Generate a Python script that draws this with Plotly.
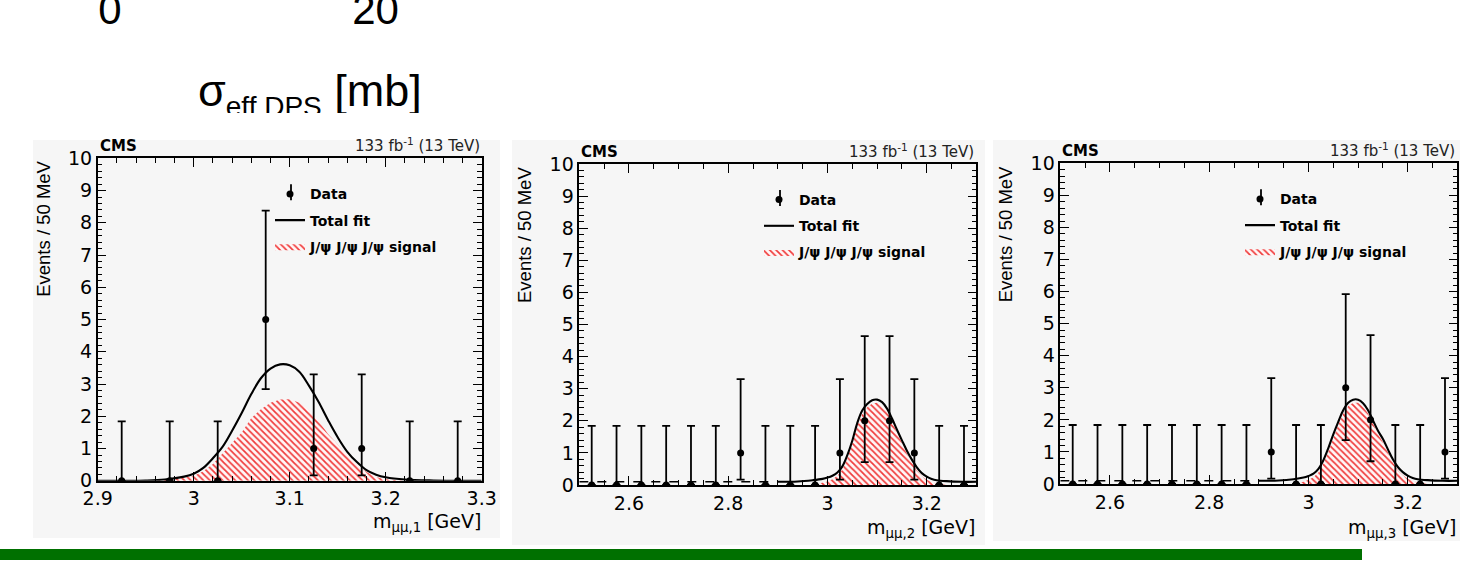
import plotly.graph_objects as go

W, H = 1460, 563
FONT = "DejaVu Sans"

# ---- data: 50 MeV bin centres and event counts ----
bins_1 = [2.925, 2.975, 3.025, 3.075, 3.125, 3.175, 3.225, 3.275]
counts_1 = [0, 0, 0, 5, 1, 1, 0, 0]

bins_23 = [2.525, 2.575, 2.625, 2.675, 2.725, 2.775, 2.825, 2.875,
           2.925, 2.975, 3.025, 3.075, 3.125, 3.175, 3.225, 3.275]
counts_2 = [0, 0, 0, 0, 0, 0, 1, 0, 0, 0, 1, 2, 2, 1, 0, 0]
counts_3 = [0, 0, 0, 0, 0, 0, 0, 0, 1, 0, 0, 3, 2, 0, 0, 1]

# 68% CL Poisson intervals for small counts (upper / lower lengths)
poisson_up = {0: 1.84, 1: 2.30, 2: 2.64, 3: 2.92, 5: 3.38}
poisson_dn = {0: 0.00, 1: 0.83, 2: 1.29, 3: 1.63, 5: 2.16}

# ---- fit curves ----
fit_x_1 = [2.90, 2.95, 2.97, 2.99, 3.00, 3.01, 3.02, 3.03, 3.04, 3.05, 3.06, 3.07,
           3.08, 3.09, 3.10, 3.11, 3.12, 3.13, 3.14, 3.15, 3.16, 3.17, 3.18, 3.19,
           3.20, 3.22, 3.25, 3.30]
fit_y_1 = [0.00, 0.01, 0.04, 0.13, 0.22, 0.40, 0.70, 1.05, 1.55, 2.10, 2.69, 3.18,
           3.48, 3.61, 3.58, 3.38, 2.95, 2.45, 1.88, 1.35, 0.90, 0.58, 0.33, 0.19,
           0.11, 0.04, 0.01, 0.00]
sig_x_1 = [2.96, 2.98, 3.00, 3.01, 3.02, 3.03, 3.04, 3.05, 3.06, 3.07, 3.08, 3.09,
           3.10, 3.11, 3.12, 3.13, 3.14, 3.15, 3.16, 3.17, 3.18, 3.19, 3.20, 3.22]
sig_y_1 = [0.00, 0.05, 0.15, 0.30, 0.52, 0.85, 1.15, 1.50, 1.95, 2.22, 2.42, 2.52,
           2.53, 2.42, 2.20, 1.85, 1.45, 1.12, 0.78, 0.48, 0.27, 0.12, 0.05, 0.00]

fit_x_23 = [2.90, 2.94, 2.97, 2.99, 3.00, 3.01, 3.02, 3.03, 3.04, 3.05, 3.06, 3.07,
            3.08, 3.09, 3.10, 3.11, 3.12, 3.13, 3.14, 3.15, 3.16, 3.17, 3.18, 3.19,
            3.20, 3.21, 3.22, 3.24, 3.27, 3.30]
fit_y_2 = [0.10, 0.11, 0.15, 0.19, 0.23, 0.29, 0.39, 0.58, 0.93, 1.38, 1.93, 2.32,
           2.52, 2.64, 2.66, 2.58, 2.38, 2.07, 1.72, 1.39, 1.07, 0.79, 0.55, 0.37,
           0.26, 0.19, 0.15, 0.12, 0.10, 0.10]
fit_y_3 = [0.10, 0.11, 0.15, 0.20, 0.25, 0.32, 0.47, 0.74, 1.12, 1.55, 1.94, 2.30,
           2.53, 2.63, 2.63, 2.52, 2.30, 1.98, 1.66, 1.40, 1.08, 0.77, 0.53, 0.37,
           0.26, 0.19, 0.15, 0.12, 0.10, 0.10]

sig_x_23 = [2.97, 2.99, 3.00, 3.01, 3.02, 3.03, 3.04, 3.05, 3.06, 3.07, 3.08, 3.09,
            3.10, 3.11, 3.12, 3.13, 3.14, 3.15, 3.16, 3.17, 3.18, 3.19, 3.20, 3.21,
            3.22, 3.24]
sig_y_2 = [0.00, 0.06, 0.11, 0.18, 0.29, 0.48, 0.83, 1.28, 1.83, 2.22, 2.42, 2.54,
           2.56, 2.48, 2.28, 1.97, 1.62, 1.29, 0.97, 0.69, 0.45, 0.27, 0.16, 0.09,
           0.05, 0.00]
sig_y_3 = [0.00, 0.07, 0.13, 0.21, 0.36, 0.63, 1.01, 1.44, 1.84, 2.20, 2.43, 2.53,
           2.53, 2.42, 2.20, 1.88, 1.56, 1.30, 0.98, 0.67, 0.43, 0.27, 0.16, 0.09,
           0.05, 0.00]

# background extrapolated below the fit range
bkg_x_23 = [2.50, 2.90]
bkg_y_2 = [0.10, 0.10]
bkg_y_3 = [0.10, 0.10]

x_titles = ["m<sub>μμ,1</sub> [GeV]", "m<sub>μμ,2</sub> [GeV]", "m<sub>μμ,3</sub> [GeV]"]
x_ranges = [[2.9, 3.3], [2.5, 3.3], [2.5, 3.3]]

# ---- layout geometry (pixels: left, right, top, bottom of each frame) ----
frames = [(97.7, 481.7, 158.3, 480.8),
          (579.3, 976.4, 164.0, 485.0),
          (1060.3, 1457.4, 163.3, 484.0)]
# background of each embedded panel image
panel_bg = [(33, 500, 140, 538), (512, 985, 140, 545), (993, 1460, 140, 541)]
ytitle_x = [43.5, 524, 1005]
xtitle_y = [522, 528, 528]
legend_left = [270, 759, 1240]


def px(x):
    return x / W


def py(y):
    return 1 - y / H


panels = [
    dict(bins=bins_1, counts=counts_1, fx=fit_x_1, fy=fit_y_1, sx=sig_x_1, sy=sig_y_1,
         bx=None, by=None, dtick=0.1, tick0=2.9, minor=0.02),
    dict(bins=bins_23, counts=counts_2, fx=fit_x_23, fy=fit_y_2, sx=sig_x_23, sy=sig_y_2,
         bx=bkg_x_23, by=bkg_y_2, dtick=0.2, tick0=2.6, minor=0.05),
    dict(bins=bins_23, counts=counts_3, fx=fit_x_23, fy=fit_y_3, sx=sig_x_23, sy=sig_y_3,
         bx=bkg_x_23, by=bkg_y_3, dtick=0.2, tick0=2.6, minor=0.05),
]

fig = go.Figure()
layout = {}
annotations = []
shapes = []

for i, p in enumerate(panels):
    s = "" if i == 0 else str(i + 1)
    xa, ya = "x" + s, "y" + s
    leg = "legend" + s
    l, r, t, b = frames[i]

    fig.add_trace(go.Scatter(
        x=p["sx"], y=p["sy"], mode="lines", line=dict(width=0, color="rgba(0,0,0,0)"),
        fill="tozeroy", fillcolor="rgba(255,255,255,0)",
        fillpattern=dict(shape="\\", fgcolor="#f03a3a", bgcolor="#fff7f7",
                         size=4.5, solidity=0.38),
        name="J/ψ J/ψ J/ψ signal", legend=leg, legendgroup=f"sig{i}", legendrank=3,
        xaxis=xa, yaxis=ya, hoverinfo="skip"))
    if p["bx"] is not None:
        fig.add_trace(go.Scatter(
            x=p["bx"], y=p["by"], mode="lines",
            line=dict(color="black", width=1.6, dash="dash"),
            showlegend=False, xaxis=xa, yaxis=ya, hoverinfo="skip"))
    fig.add_trace(go.Scatter(
        x=p["fx"], y=p["fy"], mode="lines", line=dict(color="black", width=2.1, shape="spline"),
        name="Total fit", legend=leg, legendgroup=f"fit{i}", legendrank=2,
        xaxis=xa, yaxis=ya))
    fig.add_trace(go.Scatter(
        x=p["bins"], y=p["counts"], mode="markers",
        marker=dict(color="black", size=7),
        error_y=dict(type="data", array=[poisson_up[c] for c in p["counts"]],
                     arrayminus=[poisson_dn[c] for c in p["counts"]],
                     color="black", thickness=1.8, width=4),
        name="Data", legend=leg, legendgroup=f"data{i}", legendrank=1,
        xaxis=xa, yaxis=ya))

    layout["xaxis" + s] = dict(
        domain=[px(l), px(r)], anchor=ya, range=x_ranges[i], automargin=False,
        tick0=p["tick0"], dtick=p["dtick"], ticks="inside", ticklen=9,
        tickwidth=1.3, tickcolor="black", showline=True, linecolor="black",
        linewidth=1.5, mirror="allticks", showgrid=False, zeroline=False,
        tickfont=dict(family=FONT, size=19, color="black"),
        minor=dict(ticks="inside", ticklen=5, dtick=p["minor"], tick0=2.5,
                   tickcolor="black", tickwidth=1.1, showgrid=False))
    layout["yaxis" + s] = dict(
        domain=[py(b), py(t)], anchor=xa, range=[0, 10], dtick=1, automargin=False,
        ticks="inside", ticklen=9, tickwidth=1.3, tickcolor="black",
        showline=True, linecolor="black", linewidth=1.5, mirror="allticks",
        showgrid=False, zeroline=False,
        tickfont=dict(family=FONT, size=19, color="black"),
        minor=dict(ticks="inside", ticklen=5, dtick=0.2, tickcolor="black",
                   tickwidth=1.1, showgrid=False))

    layout[leg] = dict(
        x=px(legend_left[i]), y=py(t + 20), xanchor="left", yanchor="top",
        bgcolor="rgba(0,0,0,0)", borderwidth=0,
        font=dict(family=FONT, size=14, color="black", weight="bold"),
        traceorder="grouped", tracegroupgap=5, itemwidth=30)
    # vertical bar through the legend's data marker
    shapes.append(dict(type="line", xref="paper", yref="paper", layer="above",
                       x0=px(legend_left[i] + 21), x1=px(legend_left[i] + 21),
                       y0=py(t + 26), y1=py(t + 42),
                       line=dict(color="black", width=1.8)))

    # experiment label and luminosity
    annotations.append(dict(
        x=px(l), y=py(t - 1), xref="paper", yref="paper", xanchor="left", yanchor="bottom",
        text="<b>CMS</b>", showarrow=False,
        font=dict(family=FONT, size=15, color="black")))
    annotations.append(dict(
        x=px(r), y=py(t - 1), xref="paper", yref="paper", xanchor="right", yanchor="bottom",
        text="133 fb<sup>-1</sup> (13 TeV)", showarrow=False,
        font=dict(family=FONT, size=15, color="#222222")))
    # axis titles, aligned to the end of each axis
    annotations.append(dict(
        x=px(ytitle_x[i]), y=py(t + 1), xref="paper", yref="paper",
        xanchor="center", yanchor="top", textangle=-90,
        text="Events / 50 MeV", showarrow=False,
        font=dict(family="Liberation Sans", size=18.5, color="black")))
    annotations.append(dict(
        x=px(r + 1), y=py(xtitle_y[i]), xref="paper", yref="paper",
        xanchor="right", yanchor="middle",
        text=x_titles[i], showarrow=False,
        font=dict(family=FONT, size=19, color="black")))

    bl, br, bt, bb = panel_bg[i]
    shapes.append(dict(type="rect", xref="paper", yref="paper", layer="below",
                       x0=px(bl), x1=px(br), y0=py(bb), y1=py(bt),
                       fillcolor="#f6f6f6", line=dict(width=0)))

# upper strip: lower edge of the preceding slide figure, clipped by its own axes
top_labels = ["0", "20"]
top_labels_x = [110, 375.5]
fig.add_trace(go.Scatter(
    x=top_labels_x, y=[13.5, 13.5], mode="text", text=top_labels,
    textposition="middle center",
    textfont=dict(family="Liberation Sans", size=42, color="black"),
    showlegend=False, hoverinfo="skip", xaxis="x4", yaxis="y4"))
fig.add_trace(go.Scatter(
    x=[198], y=[95], mode="text",
    text=["σ<sub><span style='font-size:28px'>eff,DPS</span></sub> [mb]"],
    textposition="middle right",
    textfont=dict(family="Liberation Sans", size=45, color="black"),
    showlegend=False, hoverinfo="skip", xaxis="x4", yaxis="y4"))
layout["xaxis4"] = dict(domain=[0, 1], range=[0, W], visible=False, anchor="y4",
                        automargin=False)
layout["yaxis4"] = dict(domain=[py(113), 1], range=[113, 0], visible=False, anchor="x4",
                        automargin=False)

# green rule at the bottom of the slide
shapes.append(dict(type="rect", xref="paper", yref="paper", layer="above",
                   x0=0, x1=px(1362), y0=py(560), y1=py(549),
                   fillcolor="#007000", line=dict(width=0)))

fig.update_layout(
    template="none",
    width=W, height=H, margin=dict(l=0, r=0, t=0, b=0, pad=0, autoexpand=False),
    paper_bgcolor="white", plot_bgcolor="rgba(0,0,0,0)",
    annotations=annotations, shapes=shapes, **layout)

fig.write_html("out.html")
